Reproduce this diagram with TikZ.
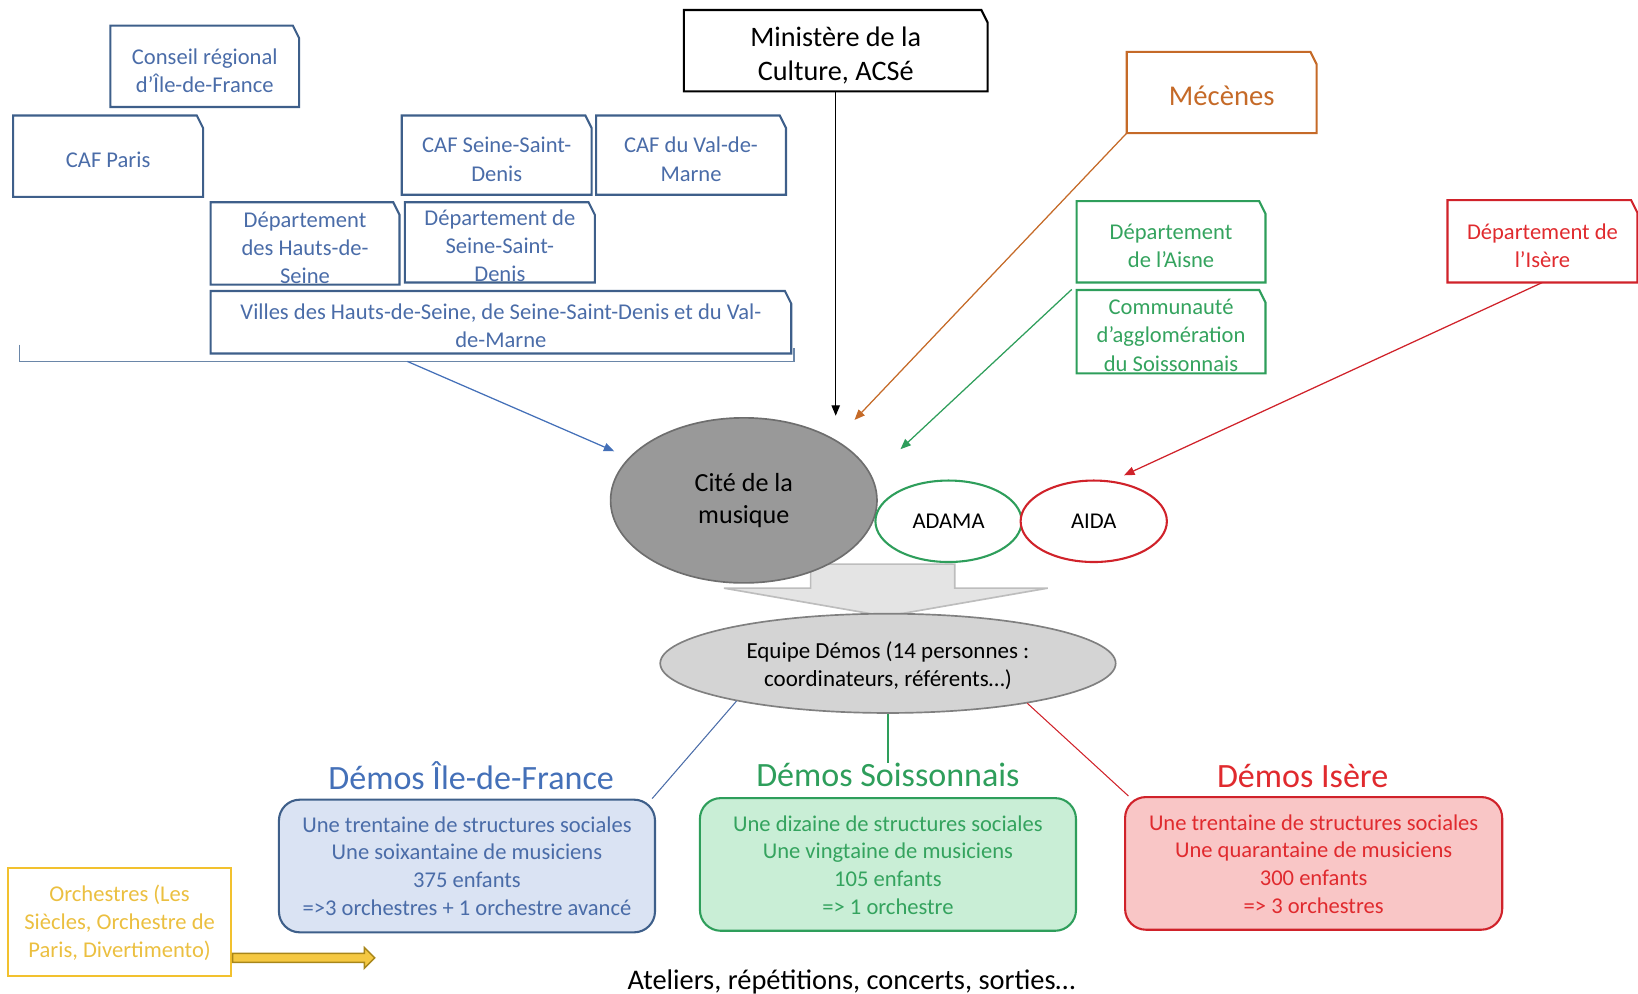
\documentclass[tikz,border=0pt]{standalone}
\usepackage{fontspec}
\setmainfont{Carlito}
\usetikzlibrary{shapes.geometric,shapes.arrows,arrows.meta,calc}
\definecolor{bluebd}{HTML}{3E5F8A}
\definecolor{bluetx}{HTML}{4A6CA8}
\definecolor{bluetitle}{HTML}{4470B8}
\definecolor{bluefill}{HTML}{DAE3F3}
\definecolor{greenbd}{HTML}{2E9E5B}
\definecolor{greentx}{HTML}{34A35E}
\definecolor{greenfill}{HTML}{C9EED6}
\definecolor{redbd}{HTML}{D0222A}
\definecolor{redtx}{HTML}{E02A2E}
\definecolor{redfill}{HTML}{F9C6C6}
\definecolor{orangebd}{HTML}{C56A28}
\definecolor{yellowbd}{HTML}{F2C12E}
\definecolor{yellowtx}{HTML}{EBBF40}
\definecolor{yarrow}{HTML}{F5C842}
\definecolor{yarrowbd}{HTML}{A8861A}
\definecolor{citefill}{HTML}{999999}
\definecolor{citebd}{HTML}{6E6E6E}
\definecolor{eqfill}{HTML}{D4D4D4}
\definecolor{eqbd}{HTML}{808080}
\definecolor{bigfill}{HTML}{E4E4E4}
\definecolor{bigbd}{HTML}{BDBDBD}
\definecolor{brack}{HTML}{6A86A8}
\tikzset{
  snipbox/.style={rectangle, inner sep=0pt},
  txt/.style={align=center, inner sep=0pt, font=\fontsize{10.8pt}{13.5pt}\selectfont},
  bluetxt/.style={txt, text=bluetx},
  greentxt/.style={txt, text=greentx},
  redtxt/.style={txt, text=redtx},
  title/.style={inner sep=0pt, font=\fontsize{16.3pt}{19pt}\selectfont},
  demobox/.style={rounded corners=10pt, line width=1pt, minimum width=180pt, minimum height=63.5pt},
  con/.style={line width=0.6pt, -{Triangle[length=5pt,width=4pt]}},
}
% outline with the north-east corner snipped
\newcommand\snipoutline[2]{%
  \draw[#2, line width=1pt, line join=miter] (#1.south west) -- (#1.north west) -- ($(#1.north east)+(-6,0)$)
    -- ($(#1.north east)+(0,12)$) -- (#1.south east) -- cycle;}
\begin{document}
\begin{tikzpicture}[x=0.5pt,y=-0.5pt]
\useasboundingbox (0,0) rectangle (1568,951.5);

% ---- big gray arrow
\draw[fill=bigfill, draw=bigbd, line width=0.8pt]
  (776,540) -- (914,540) -- (914,563) -- (1003,563) -- (848,590) -- (693,563) -- (776,563) -- cycle;

% ---- Ile-de-France funders
\node[snipbox, minimum width=90pt, minimum height=38.5pt] (cr) at (196,63.5) {};
\snipoutline{cr}{bluebd}
\node[bluetxt] at (196,67.5) {Conseil régional\\d’Île-de-France};
\node[snipbox, minimum width=90.5pt, minimum height=38.5pt] (cafp) at (103.5,149.5) {};
\snipoutline{cafp}{bluebd}
\node[bluetxt] at (103.5,153) {CAF Paris};
\node[snipbox, minimum width=90.5pt, minimum height=37.5pt] (cafs) at (475.5,148.5) {};
\snipoutline{cafs}{bluebd}
\node[bluetxt] at (475.5,152.5) {CAF Seine-Saint-\\Denis};
\node[snipbox, minimum width=90.5pt, minimum height=37.5pt] (cafv) at (661.5,148.5) {};
\snipoutline{cafv}{bluebd}
\node[bluetxt] at (661.5,152.5) {CAF du Val-de-\\Marne};
\node[snipbox, minimum width=90pt, minimum height=39pt] (dhs) at (292,233) {};
\snipoutline{dhs}{bluebd}
\node[bluetxt] at (292,237) {Département\\des Hauts-de-\\Seine};
\node[snipbox, minimum width=90.5pt, minimum height=38pt] (dss) at (478.5,232) {};
\snipoutline{dss}{bluebd}
\node[bluetxt] at (478.5,235.5) {Département de\\Seine-Saint-\\Denis};
\node[snipbox, minimum width=277.5pt, minimum height=29.5pt] (villes) at (479.5,308.5) {};
\snipoutline{villes}{bluebd}
\node[bluetxt] at (479.5,311.5) {Villes des Hauts-de-Seine, de Seine-Saint-Denis et du Val-\\de-Marne};

% bracket
\coordinate (bl) at (19,330);
\coordinate (br) at (760,333);
\coordinate (bsrc) at (390,346);
\draw[brack, line width=0.6pt] (bl) -- (19,346) -- (760,346) -- (br);

% ---- Ministère
\node[snipbox, minimum width=145pt, minimum height=38.5pt] (min) at (800,48.5) {};
\snipoutline{min}{black}
\node[txt, font=\fontsize{13.5pt}{16pt}\selectfont] at (800,53) {Ministère de la\\Culture, ACSé};

% ---- Mécènes
\node[snipbox, minimum width=90.5pt, minimum height=38.5pt] (mec) at (1169.5,88.5) {};
\snipoutline{mec}{orangebd}
\node[inner sep=0pt, text=orangebd, font=\fontsize{13.7pt}{16pt}\selectfont] at (1169.5,92) {Mécènes};

% ---- Aisne
\node[snipbox, minimum width=90pt, minimum height=38.5pt] (aisne) at (1121,231.5) {};
\snipoutline{aisne}{greenbd}
\node[greentxt] at (1121,235.5) {Département\\de l’Aisne};
\node[snipbox, minimum width=90pt, minimum height=39.5pt] (casoi) at (1121,317.5) {};
\snipoutline{casoi}{greenbd}
\node[greentxt] at (1121,321) {Communauté\\d’agglomération\\du Soissonnais};
\coordinate (gsrc) at (1026,277);

% ---- Isère
\node[snipbox, minimum width=90.5pt, minimum height=39pt] (isere) at (1476.5,231) {};
\snipoutline{isere}{redbd}
\node[redtxt] at (1476.5,235.5) {Département de\\l’Isère};

% ---- ellipses
\node[ellipse, draw=citebd, fill=citefill, line width=0.8pt, minimum width=127.5pt, minimum height=79pt] (cite) at (712,479) {};
\node[txt, font=\fontsize{12.5pt}{15pt}\selectfont] at (712,479) {Cité de la\\musique};
\node[ellipse, draw=greenbd, fill=white, line width=1pt, minimum width=70pt, minimum height=39pt, font=\fontsize{10.8pt}{12pt}\selectfont] (adama) at (908,499) {ADAMA};
\node[ellipse, draw=redbd, fill=white, line width=1pt, minimum width=70pt, minimum height=39pt, font=\fontsize{10.8pt}{12pt}\selectfont] (aida) at (1047,499) {AIDA};
\node[ellipse, draw=eqbd, fill=eqfill, line width=0.8pt, minimum width=218pt, minimum height=47.5pt] (equipe) at (850,635) {};
\node[txt, font=\fontsize{11pt}{13.5pt}\selectfont] at (850,637.5) {Equipe Démos (14 personnes :\\coordinateurs, référents…)};

% arrow targets
\coordinate (tblue) at (588,432);
\coordinate (tblack) at (800,398);
\coordinate (torange) at (818,402);
\coordinate (tgreen) at (862,430);
\coordinate (tred) at (1076,455);

\draw[con, bluetitle] (bsrc) -- (tblue);
\draw[con, black] (min.south) -- (tblack);
\draw[con, orangebd] (mec.south west) -- (torange);
\draw[con, greenbd] (gsrc) -- (tgreen);
\draw[con, redbd] (isere.south) -- (tred);

% ---- Démos titles and boxes
\node[title, text=bluetitle] (tidf) at (451,743) {Démos Île-de-France};
\node[title, text=greenbd] (tsoi) at (850,742) {Démos Soissonnais};
\node[title, text=redtx] (tis) at (1247,743) {Démos Isère};

\node[demobox, draw=bluebd, fill=bluefill] (idf) at (447,829) {};
\node[bluetxt, font=\fontsize{10.8pt}{13.25pt}\selectfont] at (447,829) {Une trentaine de structures sociales\\Une soixantaine de musiciens\\375 enfants\\=>3 orchestres + 1 orchestre avancé};
\node[demobox, draw=greenbd, fill=greenfill] (soi) at (850,827.5) {};
\node[greentxt, font=\fontsize{10.8pt}{13.25pt}\selectfont] at (850,828) {Une dizaine de structures sociales\\Une vingtaine de musiciens\\105 enfants\\=> 1 orchestre};
\node[demobox, draw=redbd, fill=redfill, minimum width=180.5pt] (isb) at (1257.5,826.5) {};
\node[redtxt, font=\fontsize{10.8pt}{13.25pt}\selectfont] at (1257.5,827) {Une trentaine de structures sociales\\Une quarantaine de musiciens\\300 enfants\\=> 3 orchestres};

\draw[bluetx, line width=0.5pt] (equipe.194) -- (idf.20);
\draw[greenbd, line width=0.6pt] (equipe.south) -- (tsoi.north);
\draw[redbd, line width=0.5pt] (equipe.344) -- (isb.160);

% ---- Orchestres
\node[draw=yellowbd, line width=1pt, minimum width=106.5pt, minimum height=51.5pt] (orch) at (114.5,882.5) {};
\node[txt, text=yellowtx] at (114.5,883.5) {Orchestres (Les\\Siècles, Orchestre de\\Paris, Divertimento)};
\node[single arrow, draw=yarrowbd, fill=yarrow, line width=0.7pt, minimum height=68pt,
  inner sep=1.8pt, single arrow head extend=2.8pt, anchor=west] (ya) at ($(orch.south east)+(0,-18)$) {};

% ---- bottom caption
\node[inner sep=0pt, font=\fontsize{13.6pt}{16pt}\selectfont] (atel) at (815,940) {Ateliers, répétitions, concerts, sorties…};
\end{tikzpicture}
\end{document}
